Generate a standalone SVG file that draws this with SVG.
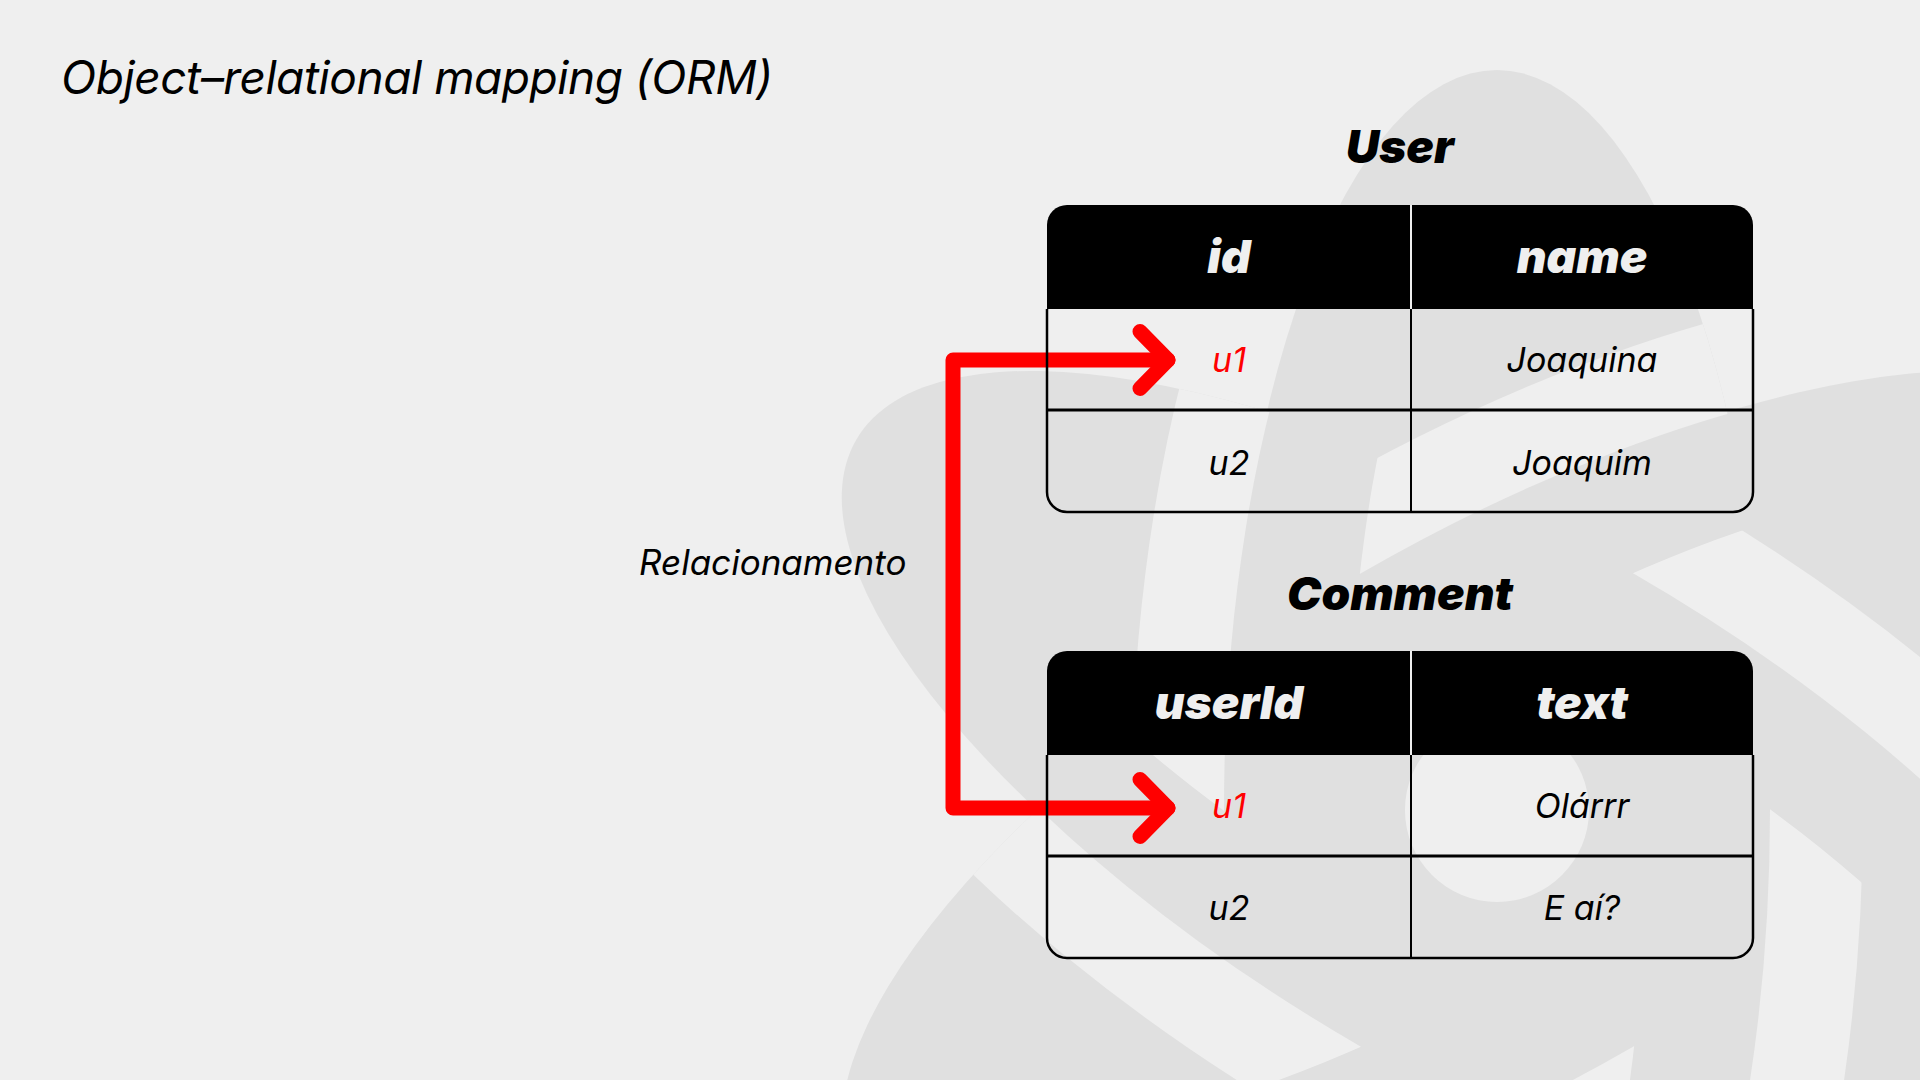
<svg xmlns="http://www.w3.org/2000/svg" width="1920" height="1080" viewBox="0 0 1920 1080">
<style>
.t{font-family:Inter,'Liberation Sans',sans-serif;font-style:italic}
.hd{font-size:46px;font-weight:900;fill:#efefef;text-anchor:middle}
.ttl{font-size:46px;font-weight:900;fill:#000;text-anchor:middle}
.cell{font-size:34px;font-weight:400;fill:#000;text-anchor:middle}
.key{fill:#ff0000}
.hdr{fill:#000}
.hsep{stroke:#efefef;stroke-width:2}
.frame{fill:none;stroke:#000;stroke-width:2.5}
.row{stroke:#000;stroke-width:3}
.col{stroke:#000;stroke-width:2}
.orb{fill:#e0e0e0}
.gap{fill:none;stroke:#efefef;stroke-width:93}
.link{fill:none;stroke:#ff0000;stroke-width:15;stroke-linecap:round;stroke-linejoin:round}
</style>
<defs>
<mask id="mA" maskUnits="userSpaceOnUse" x="0" y="0" width="1920" height="1080">
<g transform="translate(1497 810) rotate(30)">
<ellipse rx="740" ry="273" fill="#fff"/>
<rect x="-900" y="0" width="900" height="900" fill="#000"/>
<rect x="0" y="-900" width="900" height="900" fill="#000"/>
<ellipse rx="583" ry="150" fill="#fff"/>
</g>
</mask>
<mask id="mV" maskUnits="userSpaceOnUse" x="0" y="0" width="1920" height="1080">
<g transform="translate(1497 810) rotate(90)">
<ellipse rx="740" ry="273" fill="#fff"/>
<rect x="-900" y="0" width="900" height="900" fill="#000"/>
<rect x="0" y="-900" width="900" height="900" fill="#000"/>
<ellipse rx="583" ry="150" fill="#fff"/>
</g>
</mask>
<mask id="mB" maskUnits="userSpaceOnUse" x="0" y="0" width="1920" height="1080">
<g transform="translate(1497 810) rotate(-30)">
<ellipse rx="740" ry="273" fill="#fff"/>
<rect x="-900" y="0" width="900" height="900" fill="#000"/>
<rect x="0" y="-900" width="900" height="900" fill="#000"/>
<ellipse rx="583" ry="150" fill="#fff"/>
</g>
</mask>
</defs>

<g id="background">
<rect width="1920" height="1080" fill="#efefef"/>
<ellipse class="orb" cx="1497" cy="810" rx="740" ry="273" transform="rotate(90 1497 810)"/>
<ellipse class="orb" cx="1497" cy="810" rx="740" ry="273" transform="rotate(30 1497 810)"/>
<ellipse class="orb" cx="1497" cy="810" rx="740" ry="273" transform="rotate(-30 1497 810)"/>
<g mask="url(#mA)"><ellipse class="gap" cx="1497" cy="810" rx="786.5" ry="319.5" transform="rotate(90 1497 810)"/></g>
<g mask="url(#mV)"><ellipse class="gap" cx="1497" cy="810" rx="786.5" ry="319.5" transform="rotate(-30 1497 810)"/></g>
<g mask="url(#mB)"><ellipse class="gap" cx="1497" cy="810" rx="786.5" ry="319.5" transform="rotate(30 1497 810)"/></g>
<circle cx="1497" cy="810" r="92" fill="#efefef"/>
</g>

<g id="title">
<text class="t" x="61" y="94" font-size="46" letter-spacing="-0.45" fill="#000">Object–relational mapping (ORM)</text>
</g>

<g id="connectors">
<path class="link" d="M1168,360 H953 V808 H1168"/>
<path class="link" d="M1140,331.5 L1168,360 L1140,388.5"/>
<path class="link" d="M1140,779.5 L1168,808 L1140,836.5"/>
<text class="t" x="639" y="575" font-size="35" fill="#000">Relacionamento</text>
</g>

<g id="user">
<text class="t ttl" x="1400" y="163">User</text>
<path class="hdr" d="M1047,309 V225 A20,20 0 0 1 1067,205 H1733 A20,20 0 0 1 1753,225 V309 Z"/>
<line class="hsep" x1="1411" y1="205" x2="1411" y2="309"/>
<path class="frame" d="M1047,309 V492 A20,20 0 0 0 1067,512 H1733 A20,20 0 0 0 1753,492 V309"/>
<line class="row" x1="1047" y1="410" x2="1753" y2="410"/>
<line class="col" x1="1411" y1="309" x2="1411" y2="512"/>
<text class="t hd" x="1229" y="273">id</text>
<text class="t hd" x="1582" y="273">name</text>
<text class="t cell key" x="1229" y="372">u1</text>
<text class="t cell" x="1582" y="372">Joaquina</text>
<text class="t cell" x="1229" y="475">u2</text>
<text class="t cell" x="1582" y="475">Joaquim</text>
</g>

<g id="comment">
<text class="t ttl" x="1400" y="610">Comment</text>
<path class="hdr" d="M1047,755 V671 A20,20 0 0 1 1067,651 H1733 A20,20 0 0 1 1753,671 V755 Z"/>
<line class="hsep" x1="1411" y1="651" x2="1411" y2="755"/>
<path class="frame" d="M1047,755 V938 A20,20 0 0 0 1067,958 H1733 A20,20 0 0 0 1753,938 V755"/>
<line class="row" x1="1047" y1="856" x2="1753" y2="856"/>
<line class="col" x1="1411" y1="755" x2="1411" y2="958"/>
<text class="t hd" x="1229" y="719">userId</text>
<text class="t hd" x="1582" y="719">text</text>
<text class="t cell key" x="1229" y="818">u1</text>
<text class="t cell" x="1582" y="818">Olárrr</text>
<text class="t cell" x="1229" y="920">u2</text>
<text class="t cell" x="1582" y="920">E aí?</text>
</g>
</svg>
